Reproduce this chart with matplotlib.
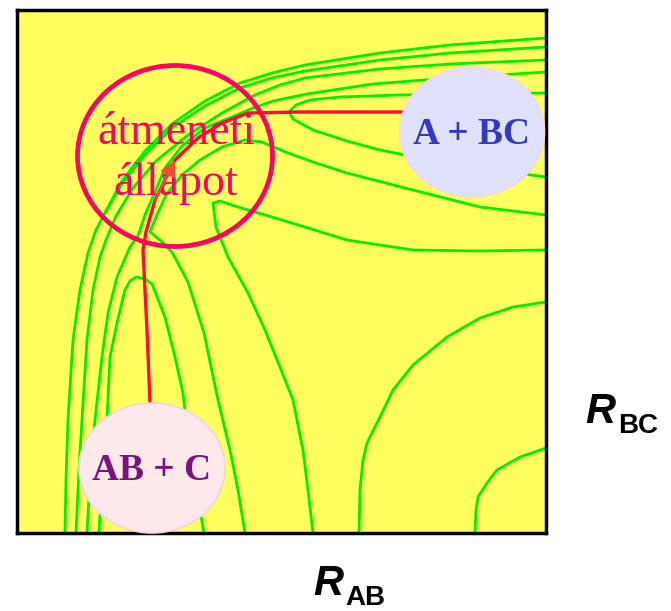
import matplotlib.pyplot as plt
from matplotlib.patches import Ellipse, FancyArrowPatch

# contour lines, in picture pixel units (x right, y down)
wall_1 = [(65, 533), (66, 480), (68, 420), (73, 340), (80, 290), (88, 253), (96, 230), (105, 213),
          (122, 181), (145, 151), (172, 124), (205, 101), (240, 83), (272, 73), (305, 65),
          (380, 53), (450, 45), (546, 38)]
wall_1b = [(105, 213), (122, 184), (145, 155), (172, 128), (205, 106), (240, 88), (272, 78),
           (305, 71), (380, 60), (450, 53), (546, 47)]
wall_2 = [(76, 533), (79, 470), (82, 420), (87, 340), (93, 290), (100, 257), (106, 240), (116, 216),
          (133, 188), (156, 161), (188, 135), (222, 113), (255, 95), (280, 85), (305, 78),
          (380, 69), (450, 64), (546, 60)]
wall_3 = [(87, 533), (90, 480), (95, 420), (102, 357), (108, 313), (117, 277), (130, 247),
          (138, 236), (145, 215), (155, 192), (165, 168), (182, 146), (205, 128), (232, 117),
          (253, 108), (273, 101), (307, 94), (340, 89), (373, 84), (450, 78), (546, 72)]
reactant_well = [(99, 533), (102, 480), (107, 420), (110, 357), (117, 323), (125, 290), (130, 281),
                 (136, 277), (145, 279), (152, 284), (165, 317), (175, 357), (183, 393), (186, 420),
                 (193, 470), (204, 533)]
product_well = [(546, 93), (470, 94), (400, 95), (340, 97), (310, 100), (296, 105), (289, 112),
                (293, 119), (313, 130), (347, 141), (380, 150), (420, 158), (480, 168), (546, 177)]
plateau_1 = [(245, 533), (238, 490), (230, 450), (218, 400), (204, 333), (188, 282), (172, 252),
             (160, 240), (150, 232), (157, 215), (166, 195), (182, 175), (200, 160), (222, 147),
             (245, 140), (262, 142), (288, 153), (313, 162), (347, 173), (413, 190), (480, 207),
             (546, 215)]
plateau_2 = [(313, 533), (308, 490), (303, 450), (293, 400), (280, 367), (265, 330), (248, 293),
             (228, 257), (216, 227), (213, 203), (220, 201), (238, 207), (272, 217), (305, 227),
             (347, 240), (413, 250), (480, 251), (546, 250)]
plateau_3 = [(359, 533), (360, 490), (363, 460), (367, 443), (380, 417), (393, 390), (413, 365),
             (447, 337), (480, 318), (513, 307), (546, 302)]
plateau_4 = [(475, 533), (476, 510), (478, 497), (487, 483), (497, 470), (520, 457), (546, 448)]

reaction_path = [(150, 403), (147, 330), (143, 250), (146, 232), (155, 200), (175, 160),
                 (198, 138), (222, 123), (248, 113), (300, 112), (405, 112)]

contours = [wall_1, wall_1b, wall_2, wall_3, reactant_well, product_well,
            plateau_1, plateau_2, plateau_3, plateau_4]

# labelled regions: text, centre, (width, height)
ts_label = "átmeneti\nállapot"
ts_ellipse = ((175, 156), (195, 181))
product_label = "A + BC"
product_ellipse = ((472, 132), (145, 130))
reactant_label = "AB + C"
reactant_ellipse = ((152, 468), (146, 130))

W, H = 671, 611
fig = plt.figure(figsize=(W / 100, H / 100), dpi=100)
ax = fig.add_axes([17 / W, 1 - 533 / H, 529 / W, 523 / H])
ax.set_xlim(17, 546)
ax.set_ylim(533, 10)
ax.set_facecolor('#ffff60')
ax.set_xticks([])
ax.set_yticks([])
for s in ax.spines.values():
    s.set_linewidth(2.5)
    s.set_color('black')

for line in contours:
    xs, ys = zip(*line)
    ax.plot(xs, ys, color='#00f000', lw=2.0, solid_joinstyle='round', solid_capstyle='round')

# transition state circle
(cx, cy), (ew, eh) = ts_ellipse
ax.add_patch(Ellipse((cx, cy), ew, eh, fill=False, edgecolor='#ff0066', lw=3.4, zorder=4))
ax.text(cx + 1, cy + 2, ts_label, ha='center', va='center', fontsize=33, color='#ff0066',
        family='Liberation Serif', linespacing=1.25, zorder=5)

# reaction path with arrow
xs, ys = zip(*reaction_path)
ax.plot(xs, ys, color='#ff0a30', lw=2.4, zorder=6)
arrow = FancyArrowPatch(reaction_path[4], reaction_path[5], arrowstyle='-|>',
                        mutation_scale=24, color='#ff4a30', lw=1.5,
                        shrinkA=0, shrinkB=0, zorder=7)
ax.add_patch(arrow)

(cx, cy), (ew, eh) = product_ellipse
ax.add_patch(Ellipse((cx, cy), ew, eh, facecolor='#dfe0fa', edgecolor='#f8d8dc', lw=1.2, zorder=8))
ax.text(cx, cy + 3, product_label, ha='center', va='center', fontsize=27, color='#3535c8',
        family='Liberation Serif', fontweight='bold', zorder=9)

(cx, cy), (ew, eh) = reactant_ellipse
ax.add_patch(Ellipse((cx, cy), ew, eh, facecolor='#fde9e9', edgecolor='#f5d3d6', lw=1.2,
                     zorder=8, clip_on=False))
ax.text(cx, cy + 2, reactant_label, ha='center', va='center', fontsize=27, color='#7c1280',
        family='Liberation Serif', fontweight='bold', zorder=9)

# axis names
fig.text(585 / W, 1 - 423 / H, 'R', fontsize=30, fontweight='bold', style='italic',
         family='Liberation Sans', va='baseline', ha='left')
fig.text(618 / W, 1 - 433 / H, 'BC', fontsize=20, fontweight='bold',
         family='Liberation Sans', va='baseline', ha='left')
fig.text(313 / W, 1 - 595 / H, 'R', fontsize=30, fontweight='bold', style='italic',
         family='Liberation Sans', va='baseline', ha='left')
fig.text(345 / W, 1 - 605 / H, 'AB', fontsize=20, fontweight='bold',
         family='Liberation Sans', va='baseline', ha='left')

fig.savefig('out.png', dpi=100)
